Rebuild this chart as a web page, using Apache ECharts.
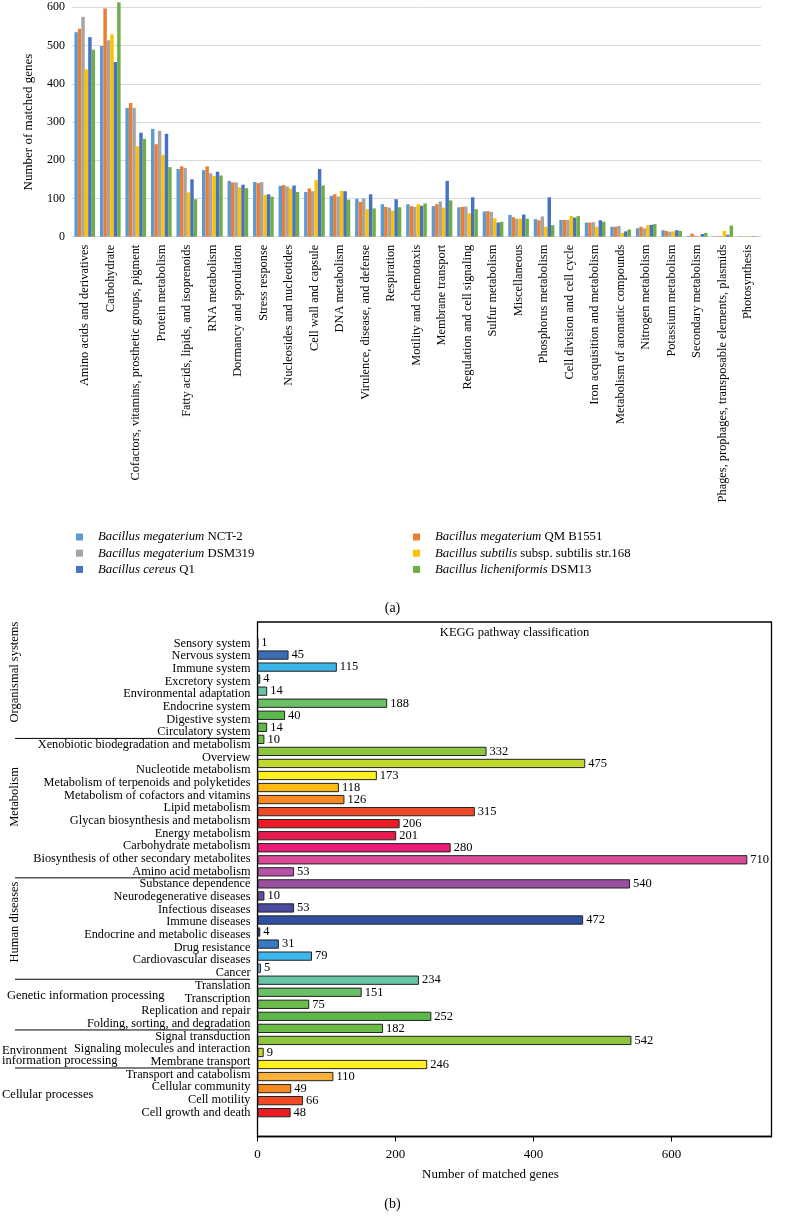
<!DOCTYPE html>
<html><head><meta charset="utf-8">
<script src="https://cdn.jsdelivr.net/npm/echarts@6/dist/echarts.min.js"></script>
<style>html,body{margin:0;padding:0;background:#fff;}#c{width:785px;height:1225px;}</style>
</head><body><div id="c"></div>
<script>
// ---------- Panel (a) data ----------
const subsystemCategories = [
  'Amino acids and derivatives','Carbohydrate','Cofactors, vitamins, prosthetic groups, pigment',
  'Protein metabolism','Fatty acids, lipids, and isoprenoids','RNA metabolism','Dormancy and sporulation',
  'Stress response','Nucleosides and nucleotides','Cell wall and capsule','DNA metabolism',
  'Virulence, disease, and defense','Respiration','Motility and chemotaxis','Membrane transport',
  'Regulation and cell signaling','Sulfur metabolism','Miscellaneous','Phosphorus metabolism',
  'Cell division and cell cycle','Iron acquisition and metabolism','Metabolism of aromatic compounds',
  'Nitrogen metabolism','Potassium metabolism','Secondary metabolism',
  'Phages, prophages, transposable elements, plasmids','Photosynthesis'
];
const speciesNames = ['Bacillus megaterium','Bacillus megaterium','Bacillus megaterium','Bacillus subtilis','Bacillus cereus','Bacillus licheniformis'];
const strainNames = ['NCT-2','QM B1551','DSM319','subsp. subtilis str.168','Q1','DSM13'];
const valuesNCT2      = [535,499,337,282,177,174,146,143,133,117,107,99,85,85,80,77,66,57,46,44,37,26,22,17,2,1,1];
const valuesQMB1551   = [544,597,350,242,184,184,142,140,135,126,111,91,78,80,85,78,67,51,43,44,37,26,26,15,8,1,1];
const valuesDSM319    = [575,514,337,277,180,166,142,143,131,119,105,100,76,78,92,79,65,47,53,44,38,28,22,13,3,2,1];
const valuesSubtilis  = [438,529,237,214,116,159,129,109,126,148,120,72,68,85,76,61,48,47,26,54,26,10,30,14,2,15,1];
const valuesCereusQ1  = [522,457,272,269,150,170,136,111,134,177,119,111,98,81,146,103,37,58,103,50,43,14,31,17,7,5,1];
const valuesDSM13     = [489,613,256,182,98,160,127,105,117,134,97,74,77,87,95,72,39,47,30,54,39,19,33,15,10,29,1];
const seriesColors = ['#5B9BD5','#ED7D31','#A5A5A5','#FFC000','#4472C4','#70AD47'];
const topTicks = [0,100,200,300,400,500,600];

// ---------- Panel (b) data ----------
const keggLabels = [
  'Sensory system','Nervous system','Immune system','Excretory system','Environmental adaptation',
  'Endocrine system','Digestive system','Circulatory system',
  'Xenobiotic biodegradation and metabolism','Overview','Nucleotide metabolism',
  'Metabolism of terpenoids and polyketides','Metabolism of cofactors and vitamins','Lipid metabolism',
  'Glycan biosynthesis and metabolism','Energy metabolism','Carbohydrate metabolism',
  'Biosynthesis of other secondary metabolites','Amino acid metabolism',
  'Substance dependence','Neurodegenerative diseases','Infectious diseases','Immune diseases',
  'Endocrine and metabolic diseases','Drug resistance','Cardiovascular diseases','Cancer',
  'Translation','Transcription','Replication and repair','Folding, sorting, and degradation',
  'Signal transduction','Signaling molecules and interaction','Membrane transport',
  'Transport and catabolism','Cellular community','Cell motility','Cell growth and death'
];
const keggValues = [1,45,115,4,14,188,40,14,10,332,475,173,118,126,315,206,201,280,710,53,
  540,10,53,472,4,31,79,5,234,151,75,252,182,542,9,246,110,49,66,48];
const keggColors = ['#4B4F9E','#3C6DB4','#3DB5E8','#5CC4E6','#67C5A6','#6BBF67','#5DBA4C','#5DBA45',
  '#72BF44','#8DC63F','#C3D82E','#FFF021','#FDBA12','#F6891F','#EF4A26','#ED1C24','#E8194D','#EC1B7A',
  '#D94A98','#B752A6','#9A4F9F','#6A4D9F','#4B4A9E','#3050A2','#2E4B9C','#3A78C2','#3DB7EA','#6BCDEB',
  '#67C5A6','#6ABF68','#6BBE4C','#5CB848','#6ABC45','#8FC63E','#C7D52E','#FFF021','#FBB03B','#F6891F',
  '#EF4A26','#ED1C24'];
const keggGroups = [
  {name:'Organismal systems', start:0},
  {name:'Metabolism', start:8},
  {name:'Human diseases', start:19},
  {name:'Genetic information processing', start:27},
  {name:'Environment\ninformation processing', start:31},
  {name:'Cellular processes', start:34}
];
const bottomTicks = [0,200,400,600];

const FF = "'Liberation Serif', 'Times New Roman', serif";
const seriesNames = speciesNames.map((s,i)=>s+' '+strainNames[i]);
const topValues = [valuesNCT2, valuesQMB1551, valuesDSM319, valuesSubtilis, valuesCereusQ1, valuesDSM13];

const chart = echarts.init(document.getElementById('c'), null, {renderer:'canvas'});

function legendFmt(name){
  const i = seriesNames.indexOf(name);
  return '{i|' + speciesNames[i] + '} {n|' + strainNames[i] + '}';
}
const legendRich = {
  i:{fontStyle:'italic', fontSize:12.8, fontFamily:FF, color:'#000', lineHeight:14, padding:[0,0,0,10]},
  n:{fontSize:12.8, fontFamily:FF, color:'#000', lineHeight:14}
};
function mkLegend(idx, left){
  return {data: idx.map(i=>seriesNames[i]), orient:'vertical', left:left, top:525.5,
    icon:'rect', itemWidth:7, itemHeight:7, itemGap:3.2, formatter: legendFmt,
    textStyle:{fontFamily:FF, fontSize:12.8, color:'#000', rich:legendRich}, selectedMode:false};
}

const option = {
  animation:false,
  backgroundColor:'#fff',
  textStyle:{fontFamily:FF},
  title:[
    {text:'(a)', left:'center', top:596, textStyle:{fontFamily:FF, fontSize:14, fontWeight:'normal', color:'#000'}},
    {text:'(b)', left:'center', top:1192, textStyle:{fontFamily:FF, fontSize:14, fontWeight:'normal', color:'#000'}}
  ],
  legend:[mkLegend([0,2,4],71), mkLegend([1,3,5],408)],
  grid:[
    {left:72, right:24, top:7.3, height:229.4},
    {left:257.5, right:13.5, top:622, height:514.5, show:true, borderColor:'#000', borderWidth:1.3},
    {left:257.5, right:13.5, top:637, height:481.7}
  ],
  xAxis:[
    {gridIndex:0, type:'category', data:subsystemCategories,
      axisLine:{lineStyle:{color:'#d9d9d9'}}, axisTick:{show:false},
      axisLabel:{interval:0, rotate:90, fontSize:12.4, color:'#000', margin:8, fontFamily:FF}},
    {gridIndex:1, type:'value', min:bottomTicks[0], max:745, interval:200,
      axisLine:{show:true, lineStyle:{color:'#000', width:1.3}},
      axisTick:{show:true, length:5, lineStyle:{color:'#000'}},
      axisLabel:{fontSize:13, color:'#000', margin:12, showMaxLabel:false, fontFamily:FF},
      splitLine:{show:false},
      name:'Number of matched genes', nameLocation:'middle', nameGap:32,
      nameTextStyle:{fontSize:13, color:'#000', fontFamily:FF, padding:[0,48,0,0]}},
    {gridIndex:2, type:'value', min:0, max:745, show:false}
  ],
  yAxis:[
    {gridIndex:0, type:'value', min:topTicks[0], max:topTicks[topTicks.length-1], interval:100,
      axisLine:{show:false}, axisTick:{show:false},
      splitLine:{lineStyle:{color:'#d9d9d9'}},
      axisLabel:{fontSize:12, color:'#000', margin:7, fontFamily:FF},
      name:'Number of matched genes', nameLocation:'middle', nameGap:37,
      nameTextStyle:{fontSize:13, color:'#000', fontFamily:FF}},
    {gridIndex:1, type:'value', show:false},
    {gridIndex:2, type:'category', data:keggValues.map((v,i)=>'bar'+i), inverse:true, show:false},
    {gridIndex:2, type:'category', data:keggLabels, inverse:true, position:'left', offset:0,
      axisLine:{show:false}, axisTick:{show:false}, splitLine:{show:false},
      axisLabel:{interval:0, fontSize:12.3, color:'#000', margin:7, fontFamily:FF}}
  ],
  series: topValues.map((vals,i)=>({
    name:seriesNames[i], type:'bar', xAxisIndex:0, yAxisIndex:0, data:vals,
    itemStyle:{color:seriesColors[i]}, barGap:'0%', barCategoryGap:'19%', clip:false
  })).concat([{
    name:'KEGG', type:'bar', xAxisIndex:2, yAxisIndex:2, barCategoryGap:'23%',
    data: keggValues.map((v,i)=>({value:v, itemStyle:{color:keggColors[i]}})),
    itemStyle:{borderColor:'#222', borderWidth:1},
    label:{show:true, position:'right', distance:3, fontSize:12.5, color:'#000', fontFamily:FF}
  }])
};
chart.setOption(option);

// Decorations placed with the label axis scale
const yOf = i => chart.convertToPixel({yAxisIndex:3}, i);
const graphics = [];
graphics.push({type:'text', x:514.5, y:633, style:{text:'KEGG pathway classification', font:'12.5px '+FF, fill:'#000', align:'center', verticalAlign:'middle'}});
keggGroups.forEach((g,k)=>{
  if (g.start>0){
    const yb = (yOf(g.start-1)+yOf(g.start))/2;
    graphics.push({type:'line', shape:{x1:15, y1:yb, x2:250, y2:yb}, style:{stroke:'#000', lineWidth:1}});
  }
});
const groupTextPos = [
  {x:15, y:672, rot:true},
  {x:15, y:797, rot:true},
  {x:15, y:922, rot:true},
  {x:7, y:996, rot:false},
  {x:2, y:1055.5, rot:false},
  {x:2, y:1095, rot:false}
];
keggGroups.forEach((g,k)=>{
  const p = groupTextPos[k];
  graphics.push({type:'text', x:p.x, y:p.y, rotation: p.rot ? Math.PI/2 : 0,
    style:{text:g.name, font:'12.5px '+FF, fill:'#000', align:p.rot?'center':'left', verticalAlign:'middle', lineHeight:10}});
});
chart.setOption({graphic:graphics});
</script></body></html>
